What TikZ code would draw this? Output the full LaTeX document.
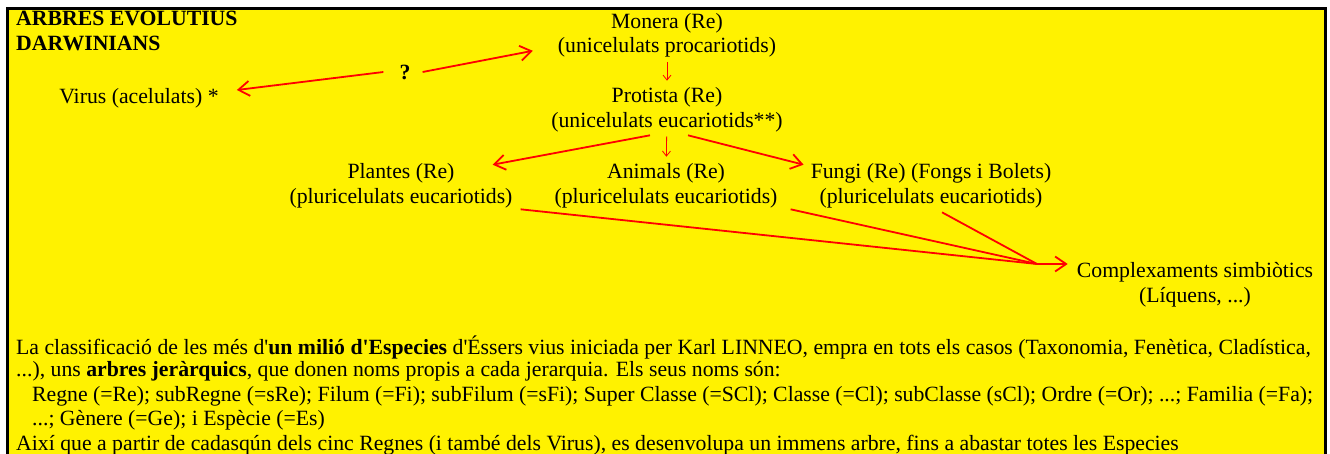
\documentclass[tikz,border=0pt]{standalone}
\usepackage{fontspec}
\setmainfont{Liberation Serif}[Ligatures=TeXOff]
\usetikzlibrary{arrows.meta}

\tikzset{
  txt/.style={inner sep=1pt,align=center,font=\fontsize{21.75}{24.5}\selectfont},
  body/.style={inner sep=1pt,anchor=west,font=\fontsize{21.75}{24.5}\selectfont},
  arr/.style={red,line width=1.8pt,-{Straight Barb[length=11pt,width=15pt,line width=1.8pt]}},
  tick/.style={red,line width=0.8pt,-{Straight Barb[length=5pt,width=8pt,line width=0.8pt]}},
  link/.style={red,line width=1.8pt}
}

\begin{document}
\begin{tikzpicture}[x=1pt,y=-1pt]
  \useasboundingbox (0,0) rectangle (1330,454);
  \fill[yellow] (9,10) rectangle (1324,454);
  \draw[line width=3pt] (7.5,454) -- (7.5,9) -- (1325.5,9) -- (1325.5,454);

  \node[txt,anchor=north west,align=left,font=\bfseries\fontsize{21.75}{24.5}\selectfont] (title) at (15,10) {ARBRES EVOLUTIUS\\DARWINIANS};
  \node[txt] (monera) at (667,35.5) {Monera (Re)\\(unicelulats procariotids)};
  \node[txt,font=\bfseries\fontsize{21.75}{24.5}\selectfont] (q) at (405,72) {?};
  \node[txt] (virus) at (139,98) {Virus (acelulats) *};
  \node[txt] (protista) at (667,110) {Protista (Re)\\(unicelulats eucariotids**)};
  \node[txt] (plantes) at (401,186) {Plantes (Re)\\(pluricelulats eucariotids)};
  \node[txt] (animals) at (666,186) {Animals (Re)\\(pluricelulats eucariotids)};
  \node[txt] (fungi) at (931,186) {Fungi (Re) (Fongs i Bolets)\\(pluricelulats eucariotids)};
  \node[txt] (complex) at (1195,285) {Complexaments simbiòtics\\(Líquens, ...)};
  \coordinate (jn) at (1037,264);

  \draw[arr] ([xshift=-15pt]q.west) -- ([xshift=17pt,yshift=8pt]virus.east);
  \draw[arr] ([xshift=11pt]q.east) -- ([xshift=-24pt,yshift=8pt]monera.south west);
  \draw[tick,shorten <=3pt,shorten >=6pt] (monera) -- (protista);
  \draw[arr] ([xshift=-17pt,yshift=-2pt]protista.south) -- ([xshift=-21pt,yshift=-2pt]plantes.north east);
  \draw[tick,shorten <=3pt,shorten >=6pt] (protista) -- (animals);
  \draw[arr] ([xshift=21pt,yshift=-2pt]protista.south) -- ([xshift=-6pt,yshift=-2pt]fungi.north west);
  \draw[link] ([xshift=7pt]plantes.south east) -- (jn);
  \draw[link] ([xshift=12pt]animals.south east) -- (jn);
  \draw[link] ([xshift=11pt,yshift=-3pt]fungi.south) -- (jn);
  \draw[arr] (jn) -- ([xshift=-8pt]jn -| complex.west);

  \node[body] (l1) at (15,347) {La classificació de les més d'\textbf{un milió d'Especies} d'Éssers vius iniciada per Karl LINNEO, empra en tots els casos (Taxonomia, Fenètica, Cladística,};
  \node[body] (l2) at (15,371.5) {...), uns \textbf{arbres jeràrquics}, que donen noms propis a cada jerarquia. Els seus noms són:};
  \node[body] (l3) at (31,396) {Regne (=Re); subRegne (=sRe); Filum (=Fi); subFilum (=sFi); Super Classe (=SCl); Classe (=Cl); subClasse (sCl); Ordre (=Or); ...; Familia (=Fa);};
  \node[body] (l4) at (31,420.5) {...; Gènere (=Ge); i Espècie (=Es)};
  \node[body] (l5) at (15,445) {Així que a partir de cadasqún dels cinc Regnes (i també dels Virus), es desenvolupa un immens arbre, fins a abastar totes les Especies};
\end{tikzpicture}
\end{document}
